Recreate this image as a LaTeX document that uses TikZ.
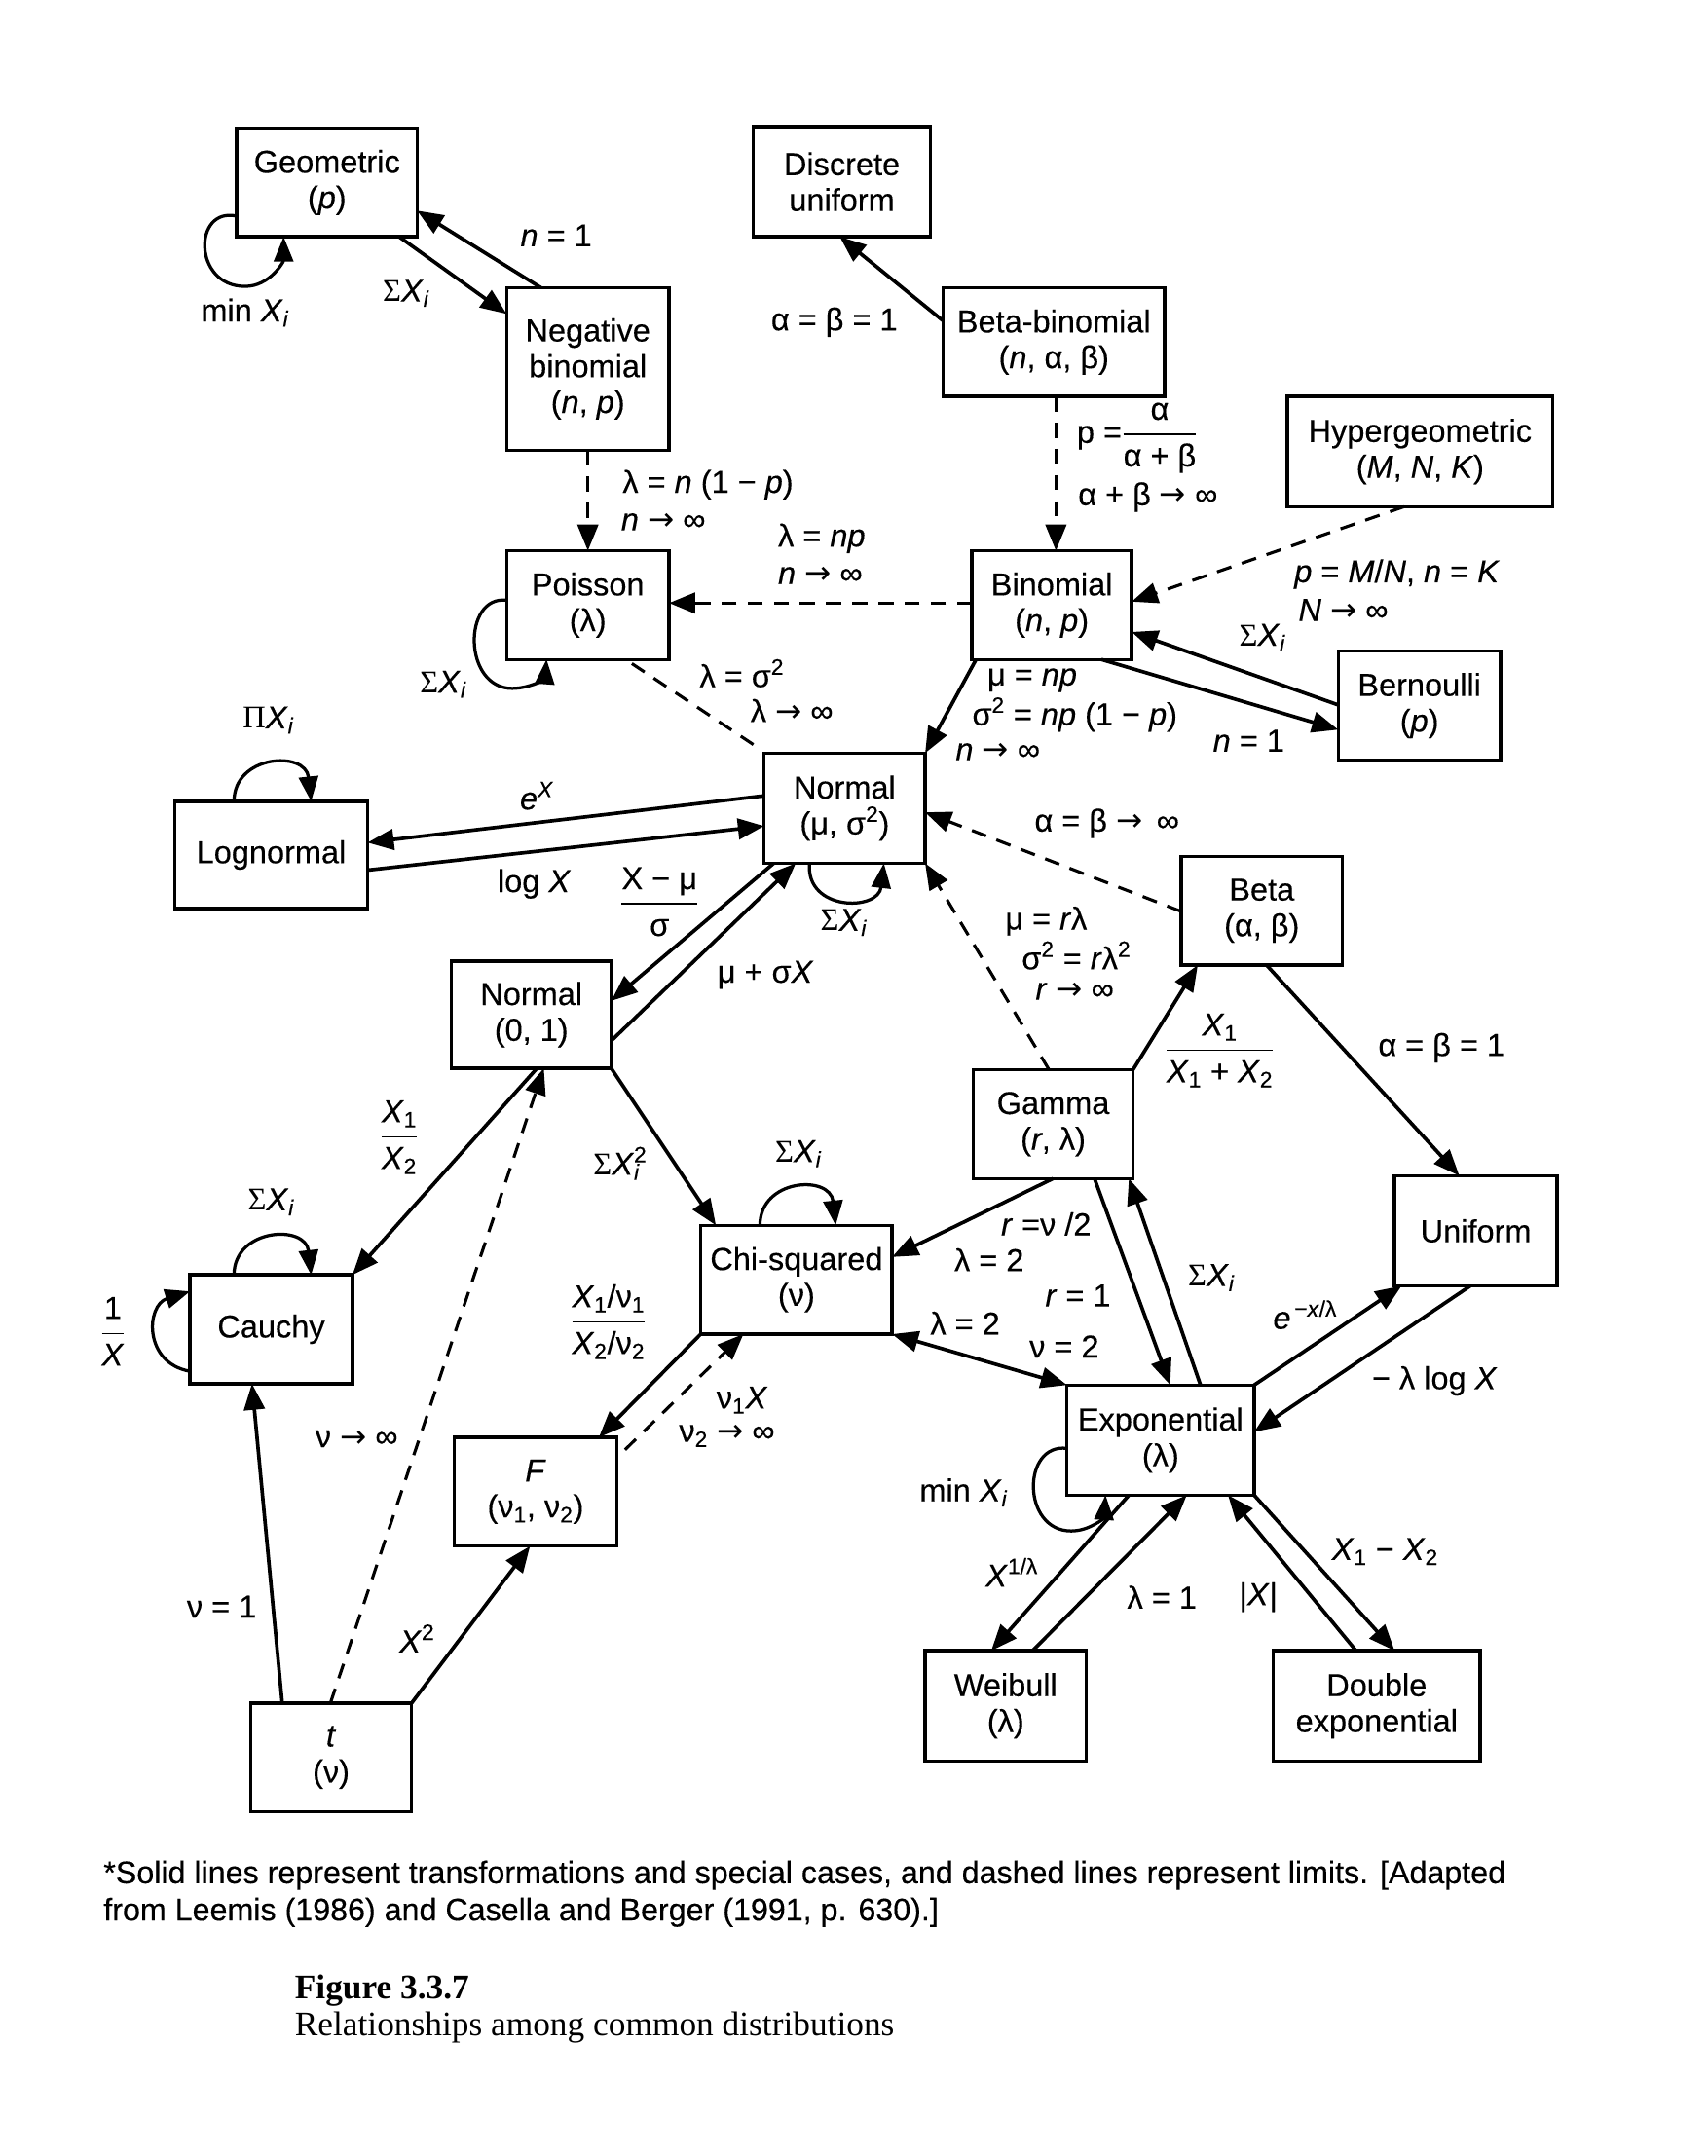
\documentclass[tikz,border=0pt]{standalone}
\usepackage{amsmath}
\usepackage{fontspec}
\setmainfont{Liberation Sans}[FakeBold=0.3]
\newfontfamily\capfont{Liberation Serif}
\newfontfamily\arrfont{DejaVu Sans}
\usetikzlibrary{arrows.meta,calc}
\newcommand\Sg{{\capfont Σ}}
\newcommand\sumX{\Sg\textit{X}\textsubscript{\textit{i}}}
\newcommand\ra{{\arrfont →}}
\newcommand\tfr[2]{$\genfrac{}{}{1.1pt}{0}{\hbox{#1}}{\hbox{#2}}$}
\begin{document}
\begin{tikzpicture}[x=1pt,y=-1pt,
  font=\fontsize{23}{26}\selectfont,
  box/.style={draw, line width=2.4pt, align=center, inner sep=0pt, outer sep=0pt},
  edge/.style={line width=2.6pt, -{Triangle[length=19pt,width=15pt]}},
  edgeb/.style={line width=2.6pt, {Triangle[length=19pt,width=15pt]}-{Triangle[length=19pt,width=15pt]}},
  lim/.style={line width=2.2pt, dash pattern=on 11pt off 8pt, -{Triangle[length=19pt,width=15pt]}},
  loopst/.style={line width=2.3pt, -{Triangle[length=18pt,width=14pt]}},
  lbl/.style={inner sep=0pt}]
\fill[white] (0,0) rectangle (1240,1566);
\useasboundingbox (0,0) rectangle (1240,1566);

% boxes
\node[box, minimum width=131pt, minimum height=79pt] (geo) at (237.5,132.5) {Geometric\\(\textit{p})};
\node[box, minimum width=129pt, minimum height=80pt] (dunif) at (611.5,132) {Discrete\\uniform};
\node[box, minimum width=118pt, minimum height=118pt] (negbin) at (427,268) {Negative\\binomial\\(\textit{n}, \textit{p})};
\node[box, minimum width=161pt, minimum height=79pt] (betabin) at (765.5,248.5) {Beta-binomial\\(\textit{n}, α, β)};
\node[box, minimum width=193pt, minimum height=80pt] (hyper) at (1031.5,328) {Hypergeometric\\(\textit{M}, \textit{N}, \textit{K})};
\node[box, minimum width=118pt, minimum height=79pt] (pois) at (427,439.5) {Poisson\\(λ)};
\node[box, minimum width=116pt, minimum height=79pt] (binom) at (764,439.5) {Binomial\\(\textit{n}, \textit{p})};
\node[box, minimum width=118pt, minimum height=79pt] (bern) at (1031,512.5) {Bernoulli\\(\textit{p})};
\node[box, minimum width=140pt, minimum height=78pt] (lognorm) at (197,621) {Lognormal};
\node[box, minimum width=117pt, minimum height=80pt] (normal) at (613.5,587) {Normal\\(μ, σ\textsuperscript{2})};
\node[box, minimum width=117pt, minimum height=79pt] (beta) at (916.5,661.5) {Beta\\(α, β)};
\node[box, minimum width=116pt, minimum height=78pt] (n01) at (386,737) {Normal\\(0, 1)};
\node[box, minimum width=116pt, minimum height=79pt] (gamma) at (765,816.5) {Gamma\\(\textit{r}, λ)};
\node[box, minimum width=118pt, minimum height=80pt] (unif) at (1072,894) {Uniform};
\node[box, minimum width=139pt, minimum height=79pt] (chisq) at (578.5,929.5) {Chi-squared\\(ν)};
\node[box, minimum width=118pt, minimum height=79pt] (cauchy) at (197,965.5) {Cauchy};
\node[box, minimum width=136pt, minimum height=80pt] (expo) at (843,1046) {Exponential\\(λ)};
\node[box, minimum width=118pt, minimum height=79pt] (fdist) at (389,1083.5) {\textit{F}\\(ν\textsubscript{1}, ν\textsubscript{2})};
\node[box, minimum width=117pt, minimum height=80pt] (weib) at (730.5,1239) {Weibull\\(λ)};
\node[box, minimum width=150pt, minimum height=80pt] (dexp) at (1000,1239) {Double\\exponential};
\node[box, minimum width=117pt, minimum height=79pt] (tdist) at (240.5,1276.5) {\textit{t}\\(ν)};

% connectors
\draw[loopst] ($(geo.north west)+(0,64)$) .. controls (140,150) and (140,208) .. (178,208) .. controls (196,208) and (206,190) .. ($(geo.north west)+(34,79)$);
\draw[edge] ($(negbin.north west)+(25,0)$) -- ($(geo.north west)+(131,60)$);
\draw[edge] ($(geo.north west)+(118,79)$) -- ($(negbin.north west)+(0,19)$);
\draw[edge] ($(betabin.north west)+(0,24)$) -- ($(dunif.north west)+(63,80)$);
\draw[lim] ($(betabin.north west)+(82,79)$) -- ($(binom.north west)+(61,0)$);
\draw[lim] ($(hyper.north west)+(85,80)$) -- ($(binom.north west)+(116,37)$);
\draw[lim] ($(negbin.north west)+(59,118)$) -- ($(pois.north west)+(59,0)$);
\draw[lim] ($(binom.north west)+(0,38)$) -- ($(pois.north west)+(118,38)$);
\draw[loopst] ($(pois.north west)+(0,36)$) .. controls (336,432) and (336,500) .. (372,500) .. controls (386,500) and (396,492) .. ($(pois.north west)+(29,79)$);
\draw[lim,-] ($(pois.north west)+(91,82)$) -- ($(normal.north west)+(-3,-3)$);
\draw[edge] ($(binom.north west)+(3,79)$) -- ($(normal.north west)+(117,0)$);
\draw[edge] ($(bern.north west)+(0,39)$) -- ($(binom.north west)+(116,59)$);
\draw[edge] ($(binom.north west)+(94,79)$) -- ($(bern.north west)+(0,57)$);
\draw[loopst] ($(lognorm.north west)+(43,0)$) .. controls (170,548) and (222,545) .. ($(lognorm.north west)+(99,0)$);
\draw[edge] ($(normal.north west)+(0,31)$) -- ($(lognorm.north west)+(140,30)$);
\draw[edge] ($(lognorm.north west)+(140,50)$) -- ($(normal.north west)+(0,53)$);
\draw[edge] ($(normal.north west)+(7,80)$) -- ($(n01.north west)+(116,29)$);
\draw[edge] ($(n01.north west)+(116,58)$) -- ($(normal.north west)+(23,80)$);
\draw[loopst] ($(normal.north west)+(33,80)$) .. controls (585,662) and (638,662) .. ($(normal.north west)+(87,80)$);
\draw[lim] ($(beta.north west)+(0,40)$) -- ($(normal.north west)+(117,43)$);
\draw[lim] ($(gamma.north west)+(55,0)$) -- ($(normal.north west)+(117,80)$);
\draw[edge] ($(gamma.north west)+(116,0)$) -- ($(beta.north west)+(12,79)$);
\draw[edge] ($(beta.north west)+(62,79)$) -- ($(unif.north west)+(47,0)$);
\draw[edge] ($(n01.north west)+(62,78)$) -- ($(cauchy.north west)+(118,0)$);
\draw[edge] ($(n01.north west)+(116,78)$) -- ($(chisq.north west)+(11,0)$);
\draw[lim] ($(tdist.north west)+(58,0)$) -- ($(n01.north west)+(67,78)$);
\draw[loopst] ($(cauchy.north west)+(32,0)$) .. controls (170,892) and (222,889) .. ($(cauchy.north west)+(88,0)$);
\draw[loopst] ($(cauchy.north west)+(0,70)$) .. controls (104,990) and (106,948) .. ($(cauchy.north west)+(0,12)$);
\draw[edge] ($(tdist.north west)+(23,0)$) -- ($(cauchy.north west)+(45,79)$);
\draw[edge] ($(tdist.north west)+(117,0)$) -- ($(fdist.north west)+(55,79)$);
\draw[edge] ($(chisq.north west)+(0,79)$) -- ($(fdist.north west)+(105,0)$);
\draw[lim] ($(fdist.north west)+(124,9)$) -- ($(chisq.north west)+(31,79)$);
\draw[loopst] ($(chisq.north west)+(43,0)$) .. controls (552,856) and (603,853) .. ($(chisq.north west)+(98,0)$);
\draw[edge] ($(gamma.north west)+(58,79)$) -- ($(chisq.north west)+(139,23)$);
\draw[edgeb] ($(chisq.north west)+(139,79)$) -- ($(expo.north west)+(0,0)$);
\draw[edge] ($(gamma.north west)+(88,79)$) -- ($(expo.north west)+(75,0)$);
\draw[edge] ($(expo.north west)+(97,0)$) -- ($(gamma.north west)+(113,79)$);
\draw[edge] ($(expo.north west)+(136,0)$) -- ($(unif.north west)+(5,80)$);
\draw[edge] ($(unif.north west)+(55,80)$) -- ($(expo.north west)+(136,34)$);
\draw[loopst] ($(expo.north west)+(0,46)$) .. controls (742,1048) and (742,1112) .. (778,1112) .. controls (792,1112) and (802,1102) .. ($(expo.north west)+(28,80)$);
\draw[edge] ($(expo.north west)+(45,80)$) -- ($(weib.north west)+(48,0)$);
\draw[edge] ($(weib.north west)+(78,0)$) -- ($(expo.north west)+(87,80)$);
\draw[edge] ($(dexp.north west)+(60,0)$) -- ($(expo.north west)+(117,80)$);
\draw[edge] ($(expo.north west)+(136,80)$) -- ($(dexp.north west)+(88,0)$);

% labels
\node[lbl] (t1) at (178,227) {min \textit{X}\textsubscript{\textit{i}}};
\node[lbl] (t2) at (404,171) {\textit{n} = 1};
\node[lbl] (t3) at (295,213) {\sumX};
\node[lbl] (t4) at (606,234) {α = β = 1};
\node[lbl, anchor=west] (t5) at (782,318) {p =\tfr{α}{α + β}};
\node[lbl, anchor=west] (t6) at (783,361) {α + β \ra\ ∞};
\node[lbl, anchor=west] (t7) at (940,417) {\textit{p} = \textit{M}/\textit{N}, \textit{n} = \textit{K}};
\node[lbl, anchor=west] (t8) at (943,443) {\textit{N} \ra\ ∞};
\node[lbl, anchor=west] (t9) at (452,352) {λ = \textit{n} (1 − \textit{p})};
\node[lbl, anchor=west] (t10) at (451,379) {\textit{n} \ra\ ∞};
\node[lbl, anchor=west] (t11) at (565,391) {λ = \textit{np}};
\node[lbl, anchor=west] (t12) at (565,418) {\textit{n} \ra\ ∞};
\node[lbl] (t13) at (917,463) {\sumX};
\node[lbl] (t14) at (322,497) {\sumX};
\node[lbl, anchor=west] (t15) at (508,489) {λ = σ\textsuperscript{2}};
\node[lbl, anchor=west] (t16) at (545,516) {λ \ra\ ∞};
\node[lbl, anchor=west] (t17) at (717,494) {μ = \textit{np}};
\node[lbl, anchor=west] (t18) at (706,519) {σ\textsuperscript{2} = \textit{np} (1 − \textit{p})};
\node[lbl, anchor=west] (t19) at (694,546) {\textit{n} \ra\ ∞};
\node[lbl] (t20) at (907,538) {\textit{n} = 1};
\node[lbl] (t21) at (195,523) {{\capfont Π}\textit{X}\textsubscript{\textit{i}}};
\node[lbl] (t22) at (390,578) {\textit{e}\textsuperscript{\textit{X}}};
\node[lbl] (t23) at (388,642) {log \textit{X}};
\node[lbl] (t24) at (479,655) {\tfr{X − μ}{σ}};
\node[lbl] (t25) at (613,670) {\sumX};
\node[lbl] (t26) at (804,598) {α = β \ra\ \,∞};
\node[lbl] (t27) at (556,708) {μ + σ\textit{X}};
\node[lbl, anchor=west] (t28) at (730,669) {μ = \textit{r}λ};
\node[lbl, anchor=west] (t29) at (742,694) {σ\textsuperscript{2} = \textit{r}λ\textsuperscript{2}};
\node[lbl, anchor=west] (t30) at (752,720) {\textit{r} \ra\ ∞};
\node[lbl] (t31) at (886,763) {\tfr{\textit{X}\textsubscript{1}}{\textit{X}\textsubscript{1} + \textit{X}\textsubscript{2}}};
\node[lbl] (t32) at (1047,761) {α = β = 1};
\node[lbl] (t33) at (290,826) {\tfr{\textit{X}\textsubscript{1}}{\textit{X}\textsubscript{2}}};
\node[lbl] (t34) at (448,845) {\Sg\textit{X}\rlap{\textsuperscript{2}}\textsubscript{\textit{i}}};
\node[lbl] (t35) at (197,873) {\sumX};
\node[lbl] (t36) at (580,838) {\sumX};
\node[lbl] (t37) at (82,967) {\tfr{1}{\textit{X}}};
\node[lbl] (t38) at (442,960) {\tfr{\textit{X}\textsubscript{1}/ν\textsubscript{1}}{\textit{X}\textsubscript{2}/ν\textsubscript{2}}};
\node[lbl, anchor=west] (t39) at (727,889) {\textit{r} =ν /2};
\node[lbl, anchor=west] (t40) at (693,915) {λ = 2};
\node[lbl] (t41) at (880,928) {\sumX};
\node[lbl] (t42) at (783,941) {\textit{r} = 1};
\node[lbl] (t43) at (948,955) {\textit{e}\textsuperscript{\,−\textit{x}/λ}};
\node[lbl] (t44) at (701,961) {λ = 2};
\node[lbl] (t45) at (773,978) {ν = 2};
\node[lbl] (t46) at (1042,1003) {− λ log \textit{X}};
\node[lbl] (t47) at (259,1045) {ν \ra\ ∞};
\node[lbl] (t48) at (539,1017) {ν\textsubscript{1}\textit{X}};
\node[lbl] (t49) at (528,1043) {ν\textsubscript{2} \ra\ ∞};
\node[lbl] (t50) at (700,1084) {min \textit{X}\textsubscript{\textit{i}}};
\node[lbl] (t51) at (735,1142) {\textit{X}\textsuperscript{1/λ}};
\node[lbl] (t52) at (1006,1127) {\textit{X}\textsubscript{1} − \textit{X}\textsubscript{2}};
\node[lbl] (t53) at (844,1160) {λ = 1};
\node[lbl] (t54) at (914,1160) {|\textit{X}|};
\node[lbl] (t55) at (161,1167) {ν = 1};
\node[lbl] (t56) at (303,1190) {\textit{X}\textsuperscript{2}};

% footnote and caption
\node[lbl, anchor=west, font=\fontsize{22.8}{26}\selectfont] (fn1) at (75,1362) {*Solid lines represent transformations and special cases, and dashed lines represent limits. [Adapted};
\node[lbl, anchor=west, font=\fontsize{22.8}{26}\selectfont] (fn2) at (75,1389) {from Leemis (1986) and Casella and Berger (1991, p. 630).]};
\node[lbl, anchor=west, font=\capfont\bfseries\fontsize{25}{28}\selectfont] (cap1) at (214,1446) {Figure 3.3.7};
\node[lbl, anchor=west, font=\capfont\fontsize{25}{28}\selectfont] (cap2) at (214,1473) {Relationships among common distributions};
\end{tikzpicture}
\end{document}
